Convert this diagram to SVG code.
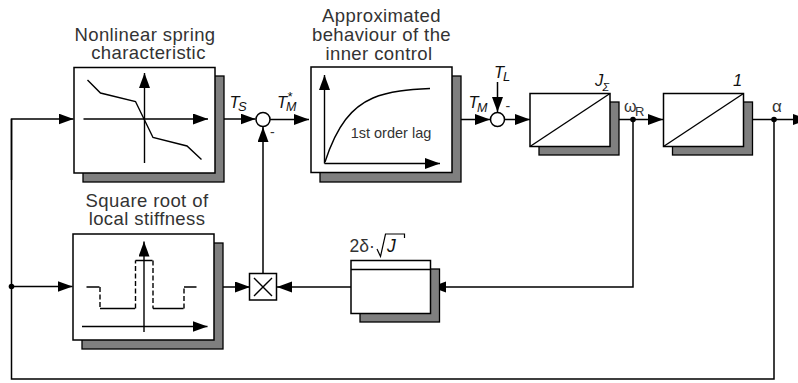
<svg xmlns="http://www.w3.org/2000/svg" width="798" height="383" viewBox="0 0 798 383">
<style>
text{font-family:"Liberation Sans",Arial,sans-serif;fill:#333}
.t{font-size:18.500px;letter-spacing:.4px;text-anchor:middle}
.i{font-style:italic;fill:#111}
.l{fill:none;stroke:#000;stroke-width:1.500}
.b{fill:#fff;stroke:#000;stroke-width:1.500}
.sh{fill:#7f7f7f;stroke:#000;stroke-width:1.300}
.c{fill:none;stroke:#000;stroke-width:1.400}
.d{fill:none;stroke:#000;stroke-width:1.400;stroke-dasharray:5 2.500}
</style>
<defs>
<marker id="a" markerUnits="userSpaceOnUse" markerWidth="16" markerHeight="12" refX="15" refY="5.500" orient="auto"><path d="M0 0L15 5.500L0 11Z" fill="#000"/></marker>
</defs>
<g id="connectors">
<path class="l" d="M215 119H255.500" marker-end="url(#a)"/>
<path class="l" d="M11.500 180V119H73.500" marker-end="url(#a)"/>
<path class="l" d="M11.500 119V379H774V119"/>
<path class="l" d="M11.500 286.500H72.500" marker-end="url(#a)"/>
<path class="l" d="M214 287H250" marker-end="url(#a)"/>
<path class="l" d="M263 273V127" marker-end="url(#a)"/>
<path class="l" d="M270 119.500H309" marker-end="url(#a)"/>
<path class="l" d="M452 119.500H490" marker-end="url(#a)"/>
<path class="l" d="M504 119.500H530" marker-end="url(#a)"/>
<path class="l" d="M497.500 82V112" marker-end="url(#a)"/>
<path class="l" d="M610 119.500H663" marker-end="url(#a)"/>
<path class="l" d="M743 119.500H808" marker-end="url(#a)"/>
<path class="l" d="M633 119.500V287H431" marker-end="url(#a)"/>
<path class="l" d="M351 287H277" marker-end="url(#a)"/>
<circle cx="633" cy="119.500" r="2.800" fill="#000"/>
<circle cx="774" cy="119.500" r="2.800" fill="#000"/>
<circle cx="11.500" cy="286.500" r="2.800" fill="#000"/>
</g>
<g id="spring">
<rect class="sh" x="83" y="76" width="141" height="106"/>
<rect class="b" x="74" y="67.500" width="141" height="105.500"/>
<path class="c" d="M83.500 119H208" marker-end="url(#a)"/>
<path class="c" d="M144.500 163V73" marker-end="url(#a)"/>
<path class="c" d="M87.500 80L100.500 93L135.500 101.500L153 137.500L187 146L201.500 159.500"/>
<text class="t"><tspan x="145" y="40.500">Nonlinear spring</tspan><tspan x="148.500" y="59">characteristic</tspan></text>
</g>
<g id="stiffness">
<rect class="sh" x="82" y="243" width="141" height="106"/>
<rect class="b" x="73" y="234" width="141" height="106"/>
<path class="c" d="M82 326.500H207.500" marker-end="url(#a)"/>
<path class="c" d="M144 332V241.500" marker-end="url(#a)"/>
<path class="c" d="M86.500 287H99.500M100 308.500H135M135.500 260.500H152.500M153 308.500H183.500M184 287H196.500"/>
<path class="d" d="M100 287V308.500M135.500 308.500V260.500M153 260.500V308.500M184 308.500V287"/>
<text class="t"><tspan x="147" y="207">Square root of</tspan><tspan x="147" y="225">local stiffness</tspan></text>
</g>
<g id="lag">
<rect class="sh" x="320" y="76" width="141" height="106"/>
<rect class="b" x="311" y="67" width="141" height="105.500"/>
<path class="c" d="M324.500 163.500V75" marker-end="url(#a)"/>
<path class="c" d="M324.500 163.500H440" marker-end="url(#a)"/>
<path class="c" d="M325 162C337 125 352 107 373 98C389 91 410 89.500 430 88.500"/>
<text x="391" y="137.500" font-size="14.500" text-anchor="middle">1st order lag</text>
<text class="t"><tspan x="381.500" y="22">Approximated</tspan><tspan x="381.500" y="41">behaviour of the</tspan><tspan x="379" y="60">inner control</tspan></text>
</g>
<g id="integrator-j">
<rect class="sh" x="539" y="102" width="80" height="53"/>
<rect class="b" x="530" y="93.500" width="80" height="53"/>
<path class="c" d="M530 146.500L610 93.500"/>
<text class="i" x="595" y="85.500" font-size="16.500">J<tspan x="602.500" y="91" font-size="11">Σ</tspan></text>
</g>
<g id="integrator-1">
<rect class="sh" x="672.500" y="102" width="80" height="53"/>
<rect class="b" x="663.500" y="93.500" width="80" height="53"/>
<path class="c" d="M663.500 146.500L743.500 93.500"/>
<text class="i" x="733" y="85.500" font-size="16.500">1</text>
</g>
<g id="damping">
<rect class="sh" x="360" y="269" width="79.500" height="53"/>
<rect class="b" x="351" y="260.500" width="79.500" height="53"/>
<path class="c" d="M351 269.500H430.500"/>
<text x="349.500" y="252" font-size="17.500">2δ·</text>
<path fill="none" stroke="#000" stroke-width="1.200" d="M377 249L380.500 256.500L385.500 234H404.500V238"/>
<text class="i" x="387" y="252" font-size="17.500">J</text>
</g>
<g id="sum-1">
<circle class="b" cx="263" cy="119.500" r="7"/>
<text x="270" y="137" font-size="14">-</text>
</g>
<g id="sum-2">
<circle class="b" cx="497.500" cy="119.500" r="7"/>
<text x="505.500" y="110.500" font-size="14">-</text>
</g>
<g id="multiplier">
<rect class="b" x="249.500" y="273.500" width="27" height="26.500"/>
<path class="c" d="M254 278L272 296M272 278L254 296"/>
</g>
<g id="labels">
<text class="i" x="229.500" y="107.500" font-size="16.500">T<tspan x="238" y="111" font-size="13">S</tspan></text>
<text class="i" x="277" y="107.500" font-size="16.500">T<tspan x="287" y="101" font-size="13">*</tspan><tspan x="286" y="111" font-size="12.500">M</tspan></text>
<text class="i" x="468.500" y="108" font-size="16.500">T<tspan x="477" y="112" font-size="12.500">M</tspan></text>
<text class="i" x="494" y="77.500" font-size="16.500">T<tspan x="503" y="81" font-size="13">L</tspan></text>
<text x="624" y="111.500" font-size="16">ω<tspan x="635" y="115.500" font-size="13">R</tspan></text>
<text x="772" y="111.500" font-size="17">α</text>
</g>
</svg>
